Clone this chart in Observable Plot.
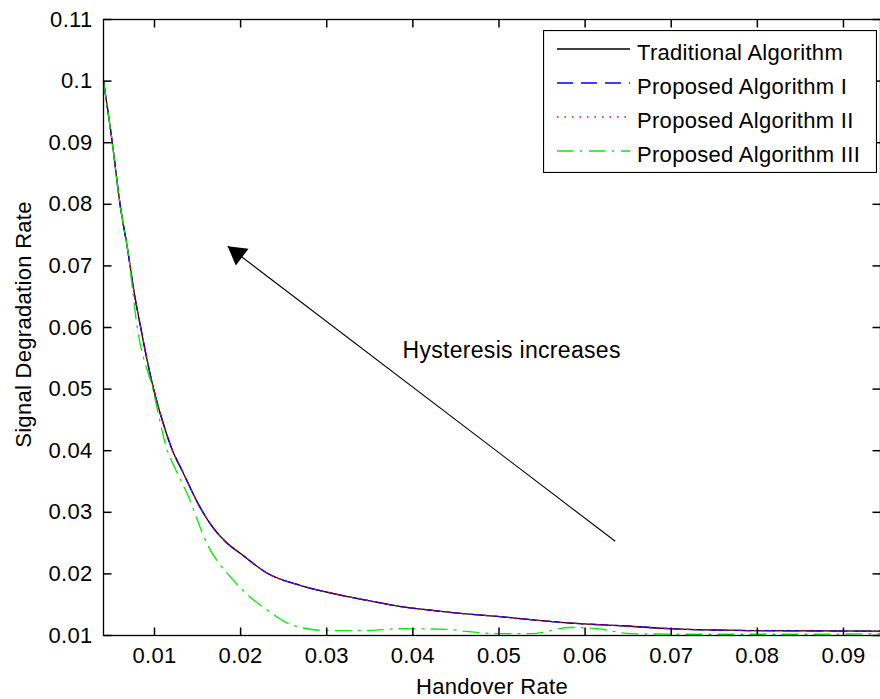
<!DOCTYPE html>
<html>
<head>
<meta charset="utf-8">
<script src="https://cdn.jsdelivr.net/npm/d3@7"></script>
<script src="https://cdn.jsdelivr.net/npm/@observablehq/plot@0.6"></script>
<style>
html, body { margin: 0; padding: 0; background: #fff; overflow: hidden; }
#wrap { position: relative; width: 880px; height: 699px; }
#legend { position: absolute; left: 543px; top: 30px; }
</style>
</head>
<body>
<div id="wrap"></div>
<script>
// ---- data ----
const handoverMain = [0.00408, 0.0051, 0.0060, 0.0069, 0.0076, 0.0084, 0.0091, 0.0099, 0.0110, 0.0121, 0.0132, 0.0153, 0.0168, 0.0185, 0.0200, 0.0231, 0.0270, 0.0308, 0.0347, 0.0386, 0.0421, 0.0440, 0.0498, 0.0575, 0.0653, 0.0699, 0.0792, 0.0943];
const degradTraditional = [0.1000, 0.0900, 0.0800, 0.0725, 0.0660, 0.0600, 0.0550, 0.0500, 0.0445, 0.0400, 0.0368, 0.0308, 0.0275, 0.0249, 0.0233, 0.0201, 0.0181, 0.0168, 0.0157, 0.0147, 0.0141, 0.0138, 0.0131, 0.0121, 0.0115, 0.0111, 0.0108, 0.0107];
const degradProposedI = [0.1000, 0.0900, 0.0800, 0.0725, 0.0660, 0.0600, 0.0550, 0.0500, 0.0445, 0.0400, 0.0368, 0.0308, 0.0275, 0.0249, 0.0233, 0.0201, 0.0181, 0.0168, 0.0157, 0.0147, 0.0141, 0.0138, 0.0131, 0.0121, 0.0115, 0.0111, 0.0108, 0.0107];
const degradProposedII = [0.1000, 0.0900, 0.0800, 0.0725, 0.0660, 0.0600, 0.0550, 0.0500, 0.0445, 0.0400, 0.0368, 0.0308, 0.0275, 0.0249, 0.0233, 0.0201, 0.0181, 0.0168, 0.0157, 0.0147, 0.0141, 0.0138, 0.0131, 0.0121, 0.0115, 0.0111, 0.0108, 0.0107];
const handoverIII = [0.00408, 0.0051, 0.0060, 0.0069, 0.0080, 0.0098, 0.0115, 0.0124, 0.0138, 0.0161, 0.0192, 0.0231, 0.0262, 0.0301, 0.0347, 0.0386, 0.0440, 0.0459, 0.0498, 0.0537, 0.0583, 0.0614, 0.0653, 0.0730, 0.0847, 0.0943];
const degradProposedIII = [0.1000, 0.0900, 0.0800, 0.0725, 0.0600, 0.0500, 0.0400, 0.0371, 0.0330, 0.0249, 0.0189, 0.0141, 0.0116, 0.0108, 0.0108, 0.0111, 0.0110, 0.0107, 0.0103, 0.0103, 0.0113, 0.0111, 0.0103, 0.0102, 0.0102, 0.0103];

const seriesNames = ["Traditional Algorithm", "Proposed Algorithm I", "Proposed Algorithm II", "Proposed Algorithm III"];
const xTicks = [0.01, 0.02, 0.03, 0.04, 0.05, 0.06, 0.07, 0.08, 0.09];
const xTickLabels = ["0.01", "0.02", "0.03", "0.04", "0.05", "0.06", "0.07", "0.08", "0.09"];
const yTicks = [0.01, 0.02, 0.03, 0.04, 0.05, 0.06, 0.07, 0.08, 0.09, 0.10, 0.11];
const yTickLabels = ["0.01", "0.02", "0.03", "0.04", "0.05", "0.06", "0.07", "0.08", "0.09", "0.1", "0.11"];
const xLabel = "Handover Rate";
const yLabel = "Signal Degradation Rate";
const annotationText = "Hysteresis increases";
const annotationPos = [0.0388, 0.0563];
const arrowFrom = [0.0635, 0.0253];
const arrowTo = [0.0185, 0.0732];
const xDomain = [0.00408, 0.0943];
const yDomain = [0.01, 0.11];

// ---- layout & styles ----
const W = 880, H = 699, ML = 103, MR = 0, MT = 19, MB = 64;
const plotW = W - ML - MR, plotH = H - MT - MB;
const TICK = 8;
const tx = TICK * (xDomain[1] - xDomain[0]) / plotW;   // tick length in x units
const ty = TICK * (yDomain[1] - yDomain[0]) / plotH;   // tick length in y units

const styles = [
  {stroke: "#000000", dash: null},
  {stroke: "#0000ff", dash: "16,8"},
  {stroke: "#ff0000", dash: "1.5,6"},
  {stroke: "#00ee00", dash: "16,7,2,7"}
];
const seriesData = [
  handoverMain.map((x, i) => ({x, y: degradTraditional[i]})),
  handoverMain.map((x, i) => ({x, y: degradProposedI[i]})),
  handoverMain.map((x, i) => ({x, y: degradProposedII[i]})),
  handoverIII.map((x, i) => ({x, y: degradProposedIII[i]}))
];

// tick segments (built from tick arrays)
const tickSegs = [
  ...xTicks.map(v => ({x1: v, x2: v, y1: yDomain[0], y2: yDomain[0] + ty})),
  ...xTicks.map(v => ({x1: v, x2: v, y1: yDomain[1] - ty, y2: yDomain[1]})),
  ...yTicks.map(v => ({x1: xDomain[0], x2: xDomain[0] + tx, y1: v, y2: v})),
  ...yTicks.map(v => ({x1: xDomain[1] - tx, x2: xDomain[1], y1: v, y2: v}))
];

// arrow head direction (screen space)
const kx = plotW / (xDomain[1] - xDomain[0]);
const ky = plotH / (yDomain[1] - yDomain[0]);
const vx = (arrowTo[0] - arrowFrom[0]) * kx;
const vy = -(arrowTo[1] - arrowFrom[1]) * ky;
const vlen = Math.hypot(vx, vy);
const ux = vx / vlen, uy = vy / vlen;
const headR = 7.8;
const headSize = headR * headR * Math.PI;
const tipDist = 2 * Math.sqrt(headSize / (3 * Math.sqrt(3)));
const headAngle = Math.atan2(ux, -uy) * 180 / Math.PI;

const FONT = "'Liberation Sans', Arial, sans-serif";

const plot = Plot.plot({
  width: W,
  height: H,
  marginLeft: ML,
  marginRight: MR,
  marginTop: MT,
  marginBottom: MB,
  style: {fontFamily: FONT, fontSize: "22px", background: "white", color: "black", letterSpacing: "0.3px"},
  x: {domain: xDomain, label: null},
  y: {domain: yDomain, label: null},
  marks: [
    ...seriesData.map((d, k) => Plot.line(d, {
      x: "x", y: "y", stroke: styles[k].stroke, strokeWidth: 1.3,
      strokeDasharray: styles[k].dash, curve: "monotone-x"
    })),
    Plot.link([{x1: arrowFrom[0], y1: arrowFrom[1], x2: arrowTo[0], y2: arrowTo[1]}], {
      x1: "x1", y1: "y1", x2: "x2", y2: "y2", stroke: "black", strokeWidth: 1.1
    }),
    Plot.dot([arrowTo], {
      x: d => d[0], y: d => d[1], symbol: "triangle", r: headR, fill: "black", stroke: null,
      rotate: headAngle, dx: -ux * tipDist, dy: -uy * tipDist
    }),
    Plot.text([annotationText], {
      x: () => annotationPos[0], y: () => annotationPos[1], text: d => d,
      textAnchor: "start", lineAnchor: "middle", fontSize: 23, fill: "black"
    }),
    // tick labels
    Plot.axisX(xTicks, {anchor: "bottom", tickSize: 0, tickPadding: 12, label: null,
      tickFormat: d => xTickLabels[xTicks.indexOf(d)], fontSize: 22}),
    Plot.axisY(yTicks, {anchor: "left", tickSize: 0, tickPadding: 11, label: null,
      tickFormat: d => yTickLabels[yTicks.indexOf(d)], fontSize: 22}),
    // inward tick marks on all four sides
    Plot.link(tickSegs, {x1: "x1", x2: "x2", y1: "y1", y2: "y2", stroke: "black", strokeWidth: 1.5}),
    Plot.frame({stroke: "black", strokeWidth: 1.3}),
    // axis titles
    Plot.text([xLabel], {frameAnchor: "bottom", dy: 43, lineAnchor: "top", textAnchor: "middle",
      text: d => d, fontSize: 22, fill: "black"}),
    Plot.text([yLabel], {frameAnchor: "left", dx: -80, dy: -3, rotate: -90, lineAnchor: "middle",
      textAnchor: "middle", text: d => d, fontSize: 22, fill: "black"})
  ]
});

const wrap = document.getElementById("wrap");
wrap.appendChild(plot);

// ---- legend ----
const legend = d3.create("svg")
  .attr("id", "legend")
  .attr("width", 334).attr("height", 143)
  .style("font-family", FONT).style("font-size", "22px");
legend.append("rect").attr("x", 0.5).attr("y", 0.5).attr("width", 333).attr("height", 142)
  .attr("fill", "white").attr("stroke", "black").attr("stroke-width", 1.2);
seriesNames.forEach((name, i) => {
  const yy = 19 + i * 34;
  legend.append("line").attr("x1", 14).attr("x2", 87).attr("y1", yy).attr("y2", yy)
    .attr("stroke", styles[i].stroke).attr("stroke-width", 1.3)
    .attr("stroke-dasharray", styles[i].dash);
  legend.append("text").attr("x", 94).attr("y", yy + 11).attr("fill", "black")
    .style("letter-spacing", "0.3px").text(name);
});
wrap.appendChild(legend.node());
</script>
</body>
</html>
